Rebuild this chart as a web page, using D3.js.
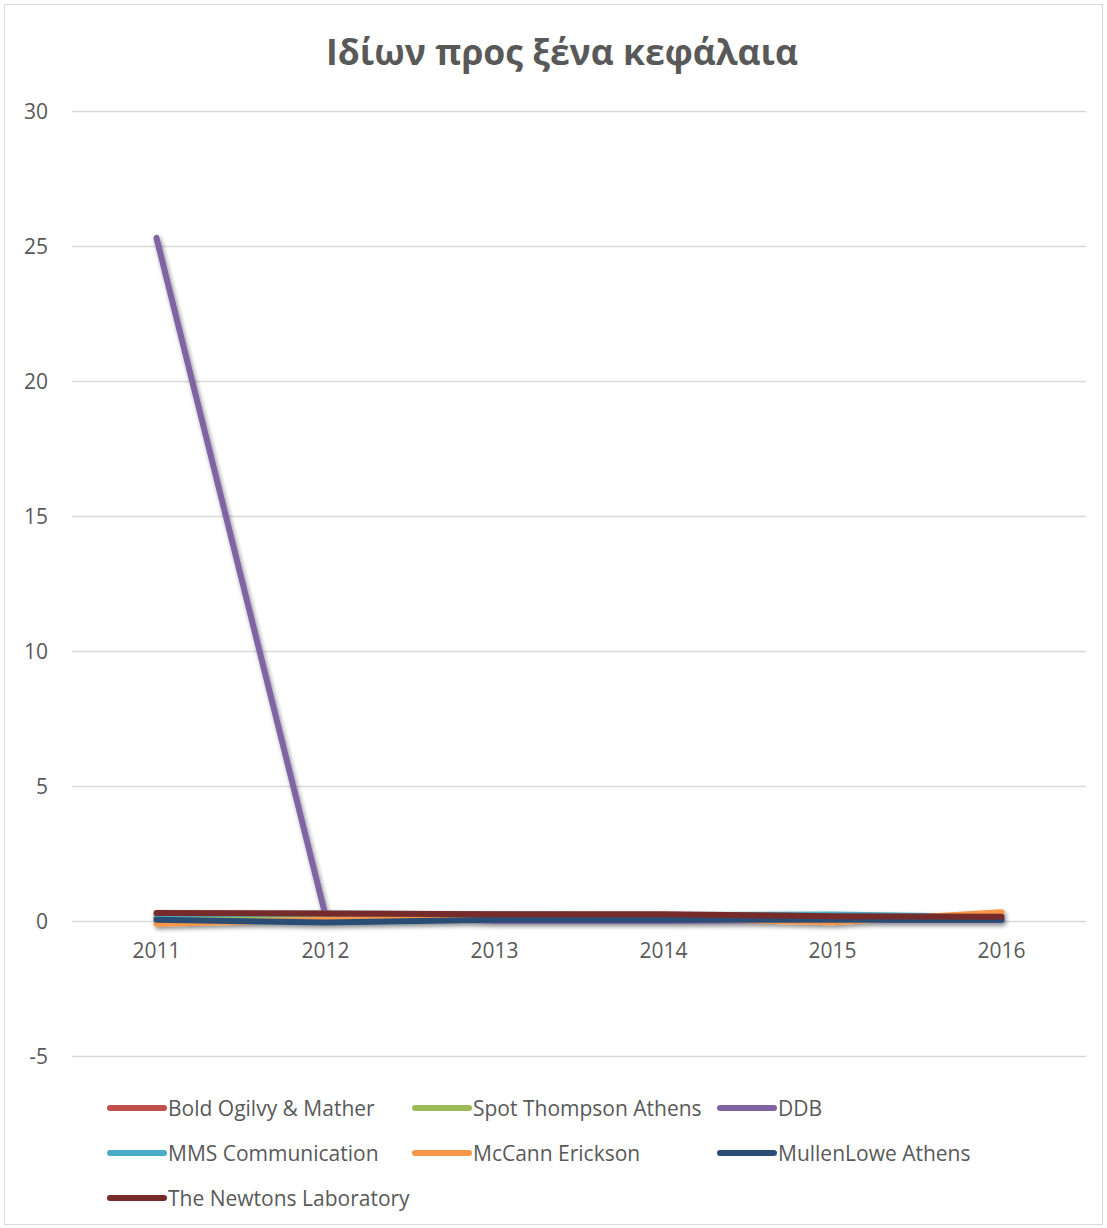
<!DOCTYPE html>
<html><head><meta charset="utf-8">
<script src="https://d3js.org/d3.v7.min.js"></script>
<style>body{margin:0;background:#fff;} text{font-family:"Open Sans","Noto Sans",sans-serif;}</style>
</head><body>
<svg id="c" width="1107" height="1228"></svg>
<script>
const years = ["2011","2012","2013","2014","2015","2016"];
const seriesNames = ["Bold Ogilvy & Mather","Spot Thompson Athens","DDB","MMS Communication","McCann Erickson","MullenLowe Athens","The Newtons Laboratory"];
const seriesColors = ["#C0504D","#9BBB59","#8064A2","#4BACC6","#F79646","#2C4D75","#772C2A"];
const boldOgilvy = [0.12,0.10,0.10,0.12,0.10,0.10];
const spotThompson = [0.15,0.14,0.15,0.15,0.12,0.12];
const ddb = [25.3,0.2,0.0,0.0,0.03,0.03];
const mms = [0.25,0.28,0.25,0.22,0.24,0.15];
const mccann = [-0.1,0.05,0.1,0.1,-0.05,0.32];
const mullenLowe = [0.05,-0.06,0.05,0.05,0.05,0.05];
const newtons = [0.3,0.28,0.25,0.25,0.18,0.16];
const seriesValues = [boldOgilvy,spotThompson,ddb,mms,mccann,mullenLowe,newtons];
const yTicks = [-5,0,5,10,15,20,25,30];

const svg = d3.select("#c");
svg.append("rect").attr("x",4.5).attr("y",4.5).attr("width",1098).attr("height",1220)
  .attr("fill","#fff").attr("stroke","#d9d9d9").attr("stroke-width",1);

const defs = svg.append("defs");
const f = defs.append("filter").attr("id","sh").attr("x","-5%").attr("y","-5%").attr("width","110%").attr("height","110%");
f.append("feDropShadow").attr("dx",1.5).attr("dy",2.5).attr("stdDeviation",2).attr("flood-color","#000").attr("flood-opacity",0.45);

const x = d3.scalePoint().domain(years).range([156.5,1001.5]);
const y = d3.scaleLinear().domain([-5,30]).range([1056,111]);

svg.append("text").attr("x",562).attr("y",65).attr("text-anchor","middle")
  .attr("font-size",35.5).attr("font-weight","bold").attr("fill","#595959").text("Ιδίων προς ξένα κεφάλαια");

const grid = svg.append("g");
yTicks.forEach(t=>{
  grid.append("line").attr("x1",72).attr("x2",1086).attr("y1",Math.round(y(t))+0.5).attr("y2",Math.round(y(t))+0.5)
    .attr("stroke","#d9d9d9").attr("stroke-width",1.3);
  grid.append("text").attr("x",48).attr("y",y(t)+7.5).attr("text-anchor","end")
    .attr("font-size",21).attr("fill","#595959").text(t);
});
years.forEach(yr=>{
  svg.append("text").attr("x",x(yr)).attr("y",958).attr("text-anchor","middle")
    .attr("font-size",21).attr("fill","#595959").text(yr);
});

const line = d3.line().x((d,i)=>x(years[i])).y(d=>y(d));
const lg = svg.append("g").attr("filter","url(#sh)");
seriesValues.forEach((vals,i)=>{
  lg.append("path").attr("d",line(vals)).attr("fill","none").attr("stroke",seriesColors[i])
    .attr("stroke-width",6).attr("stroke-linecap","round").attr("stroke-linejoin","round");
});

const legPos = [[110,1108],[415,1108],[720,1108],[110,1153],[415,1153],[720,1153],[110,1198]];
seriesNames.forEach((n,i)=>{
  const [lx,ly] = legPos[i];
  svg.append("line").attr("x1",lx).attr("x2",lx+54).attr("y1",ly).attr("y2",ly)
    .attr("stroke",seriesColors[i]).attr("stroke-width",6).attr("stroke-linecap","round");
  svg.append("text").attr("x",lx+58).attr("y",ly+7.5).attr("font-size",21).attr("fill","#595959").text(n);
});
</script>
</body></html>
